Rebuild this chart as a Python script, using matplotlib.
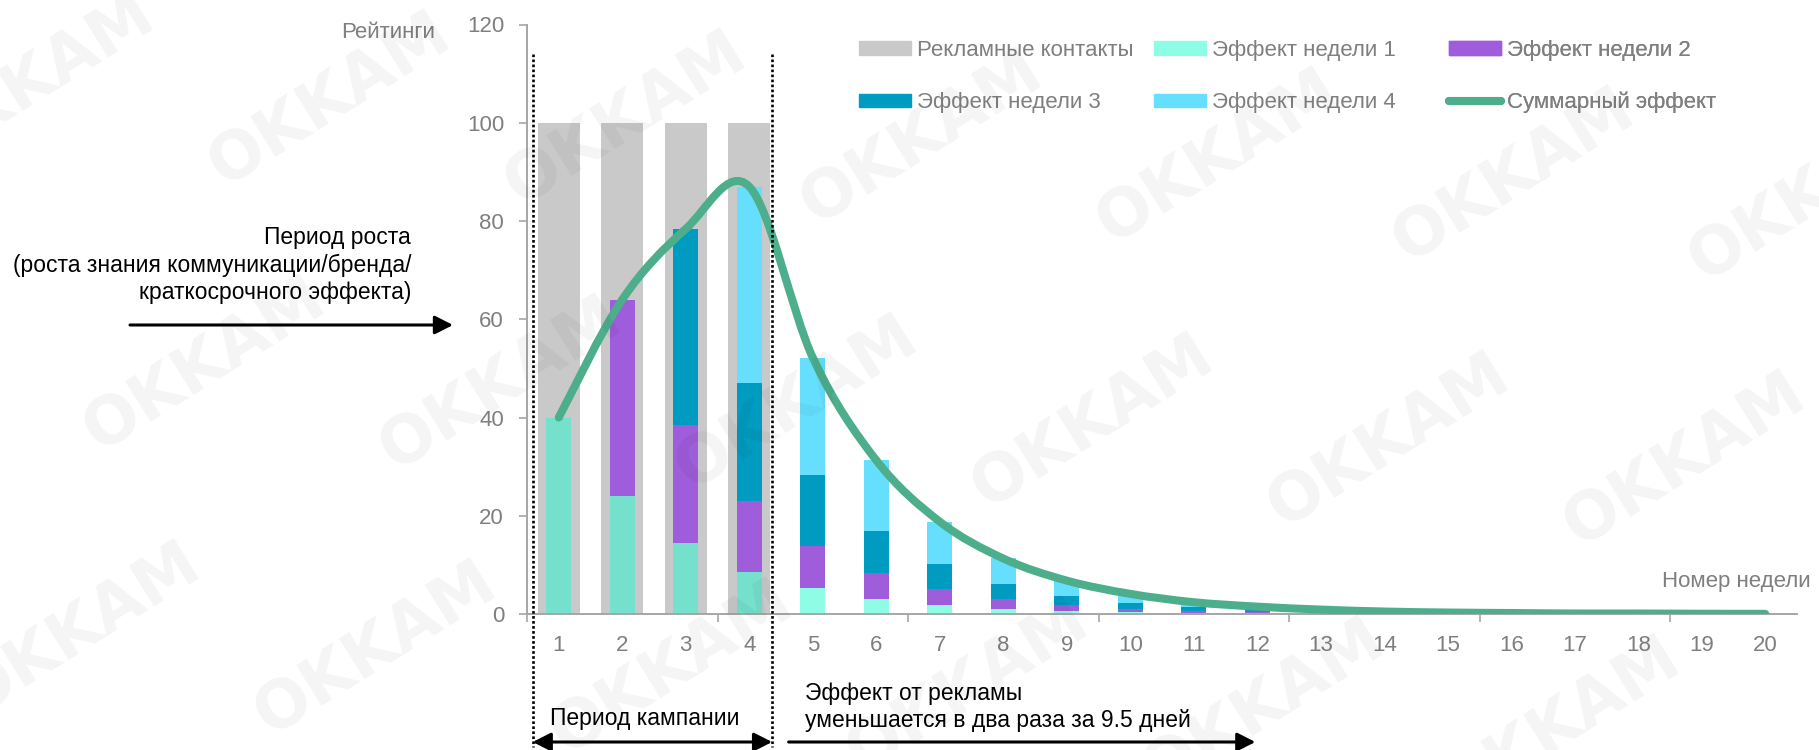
import numpy as np
import matplotlib
matplotlib.use("Agg")
import matplotlib.pyplot as plt
from matplotlib.path import Path
from matplotlib.patches import PathPatch, Patch
from matplotlib.lines import Line2D

# ---- data ----
weeks = list(range(1, 21))
contacts = [100, 100, 100, 100] + [0] * 16
eff_w1 = [40, 24, 14.4, 8.6, 5.2, 3.1, 1.9, 1.1, 0.7, 0.4, 0.24, 0.15, 0.09, 0.05, 0.03, 0.02, 0.01, 0, 0, 0]
eff_w2 = [0, 40, 24, 14.4, 8.6, 5.2, 3.1, 1.9, 1.1, 0.7, 0.4, 0.24, 0.15, 0.09, 0.05, 0.03, 0.02, 0.01, 0, 0]
eff_w3 = [0, 0, 40, 24, 14.4, 8.6, 5.2, 3.1, 1.9, 1.1, 0.7, 0.4, 0.24, 0.15, 0.09, 0.05, 0.03, 0.02, 0.01, 0]
eff_w4 = [0, 0, 0, 40, 24, 14.4, 8.6, 5.2, 3.1, 1.9, 1.1, 0.7, 0.4, 0.24, 0.15, 0.09, 0.05, 0.03, 0.02, 0.01]
total = [40, 64, 78.4, 87, 52.2, 31.3, 18.8, 11.3, 6.8, 4.1, 2.4, 1.5, 0.9, 0.5, 0.3, 0.2, 0.1, 0.1, 0.05, 0.03]

labels = ["Рекламные контакты", "Эффект недели 1", "Эффект недели 2",
          "Эффект недели 3", "Эффект недели 4", "Суммарный эффект"]
y_ticks = [0, 20, 40, 60, 80, 100, 120]

GRAY = "#C9C9C9"
TEAL_DARK = "#75E0CC"
TEAL = "#8FFCE6"
PURPLE = "#9F5CDB"
BLUE = "#009BC1"
LBLUE = "#66DFFF"
GREEN = "#4DAE8C"
TXT_GRAY = "#7F7F7F"
AX_GRAY = "#A6A6A6"

W, H = 1819, 750
plt.rcParams["font.family"] = ["Liberation Sans", "DejaVu Sans"]

fig = plt.figure(figsize=(W / 100, H / 100), dpi=100)
ax = fig.add_axes([527 / W, 1 - 614 / H, (1797 - 527) / W, (614 - 24.5) / H])

# bars
ax.bar(weeks, contacts, width=0.66, color=GRAY, zorder=1)
teal_colors = [TEAL_DARK] * 4 + [TEAL] * 16
b = np.zeros(len(weeks))
for vals, col in [(eff_w1, teal_colors), (eff_w2, PURPLE), (eff_w3, BLUE), (eff_w4, LBLUE)]:
    ax.bar(weeks, vals, width=0.39, bottom=b, color=col, zorder=2)
    b = b + np.array(vals)


# smoothed total line (cubic bezier through the points, like a spreadsheet "smooth line")
def smooth_path(xs, ys):
    pts = np.column_stack([xs, ys]).astype(float)
    n = len(pts)
    verts = [pts[0]]
    codes = [Path.MOVETO]
    for i in range(n - 1):
        p0 = pts[max(i - 1, 0)]
        p1 = pts[i]
        p2 = pts[i + 1]
        p3 = pts[min(i + 2, n - 1)]
        verts += [p1 + (p2 - p0) / 6, p2 - (p3 - p1) / 6, p2]
        codes += [Path.CURVE4] * 3
    return Path(verts, codes)


ax.add_patch(PathPatch(smooth_path(weeks, total), fill=False, edgecolor=GREEN,
                       lw=5.8, capstyle="round", joinstyle="round", zorder=4))

# axes styling
ax.set_xlim(0.5, 20.5)
ax.set_ylim(0, 120)
for s in ["top", "right"]:
    ax.spines[s].set_visible(False)
for s in ["left", "bottom"]:
    ax.spines[s].set_color(AX_GRAY)
    ax.spines[s].set_linewidth(1.4)
ax.set_yticks(y_ticks)
ax.tick_params(axis="y", length=5.5, width=1.2, color=AX_GRAY, labelcolor=TXT_GRAY,
               labelsize=16, pad=11)
ax.set_xticks(np.arange(0.5, 20.6, 3))
ax.set_xticklabels([])
ax.set_xticks(weeks, minor=True)
ax.set_xticklabels([str(w) for w in weeks], minor=True)
ax.tick_params(axis="x", which="major", length=5.5, width=1.2, color=AX_GRAY)
ax.tick_params(axis="x", which="minor", length=0, labelcolor=TXT_GRAY, labelsize=16, pad=15)

# dotted campaign boundaries
for xv in [0.59, 4.36]:
    ax.plot([xv, xv], [114, -27], color="black", lw=1.9, ls=(0, (1, 0.9)), clip_on=False, zorder=5)

# axis titles
fig.text(435 / W, 1 - 33 / H, "Рейтинги", ha="right", va="center", fontsize=16, color=TXT_GRAY)
fig.text(1811 / W, 1 - 582 / H, "Номер недели", ha="right", va="center", fontsize=16, color=TXT_GRAY)

# annotations
fig.text(411 / W, 1 - 265 / H, "Период роста\n(роста знания коммуникации/бренда/\nкраткосрочного эффекта)",
         ha="right", va="center", multialignment="right", fontsize=16.5, color="black", linespacing=1.25)
fig.text(550 / W, 1 - 718 / H, "Период кампании", ha="left", va="center", fontsize=16.5, color="black")
fig.text(805 / W, 1 - 707 / H, "Эффект от рекламы\nуменьшается в два раза за 9.5 дней",
         ha="left", va="center", fontsize=16.5, color="black", linespacing=1.25)

arrow_kw = dict(lw=2.2, color="black", shrinkA=0, shrinkB=0, mutation_scale=20)
ax.annotate("", xy=(453, H - 325), xytext=(130, H - 325), xycoords="figure pixels",
            textcoords="figure pixels", annotation_clip=False,
            arrowprops=dict(arrowstyle="-|>,head_length=0.55,head_width=0.28", **arrow_kw))
ax.annotate("", xy=(4.36, H - 742), xytext=(0.59, H - 742), xycoords=("data", "figure pixels"),
            textcoords=("data", "figure pixels"), annotation_clip=False,
            arrowprops=dict(arrowstyle="<|-|>,head_length=0.55,head_width=0.28", **arrow_kw))
ax.annotate("", xy=(11.97, H - 742), xytext=(4.62, H - 742), xycoords=("data", "figure pixels"),
            textcoords=("data", "figure pixels"), annotation_clip=False,
            arrowprops=dict(arrowstyle="-|>,head_length=0.55,head_width=0.28", **arrow_kw))

# legend: three columns of two rows
handles = [Patch(color=GRAY), Patch(color=TEAL), Patch(color=PURPLE),
           Patch(color=BLUE), Patch(color=LBLUE),
           Line2D([], [], color=GREEN, lw=5.8, solid_capstyle="round")]
col_x = [859, 1154, 1449]
for c in range(3):
    leg = ax.legend([handles[c], handles[c + 3]], [labels[c], labels[c + 3]],
                    loc="center left", bbox_to_anchor=(col_x[c] / W, 1 - 76.5 / H),
                    bbox_transform=fig.transFigure, frameon=False, fontsize=16,
                    labelcolor=TXT_GRAY, borderpad=0, borderaxespad=0,
                    handlelength=2.35, handleheight=0.55, handletextpad=0.25, labelspacing=1.4)
    ax.add_artist(leg)

# watermark
a = np.array([296, 19])
bvec = np.array([-125, 265])
o = np.array([330, 100])
for i in range(-2, 9):
    for j in range(-1, 4):
        px, py = o + i * a + j * bvec
        if 0 < px < W and 0 < py < H:
            fig.text(px / W, 1 - py / H, "OKKAM", ha="center", va="center", rotation=32,
                     rotation_mode="anchor", fontsize=47, fontweight="bold",
                     family="DejaVu Sans", color="black", alpha=0.045, zorder=10)

fig.savefig("out.png", dpi=100)
